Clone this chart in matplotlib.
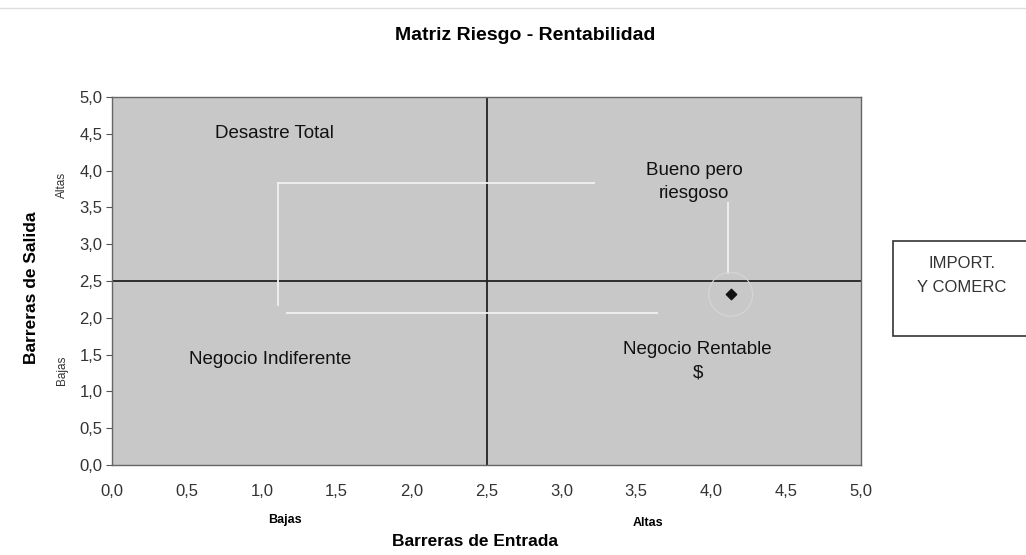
import numpy as np
import matplotlib
matplotlib.use('Agg')
import matplotlib.pyplot as plt
from matplotlib.patches import Rectangle

plt.rcParams['font.family'] = ['Liberation Sans', 'DejaVu Sans']

# datos
ticks = [0.0, 0.5, 1.0, 1.5, 2.0, 2.5, 3.0, 3.5, 4.0, 4.5, 5.0]
tick_labels = [f'{t:.1f}'.replace('.', ',') for t in ticks]
punto_x = [4.13]
punto_y = [2.32]
# recorrido en blanco
linea_sup_x = [1.11, 3.22]
linea_sup_y = [3.83, 3.83]
linea_izq_x = [1.11, 1.11]
linea_izq_y = [3.83, 2.17]
linea_inf_x = [1.17, 3.64]
linea_inf_y = [2.07, 2.07]
linea_der_x = [4.11, 4.11]
linea_der_y = [3.56, 2.61]
cuadrantes = ['Desastre Total', 'Bueno pero\nriesgoso', 'Negocio Indiferente', 'Negocio Rentable\n$']
cuad_x = [1.085, 3.885, 1.058, 3.91]
cuad_y = [4.50, 3.84, 1.43, 1.41]

fig = plt.figure(figsize=(10.26, 5.55), dpi=100)
ax = fig.add_axes([112/1026, 1-465/555, 749/1026, 368/555])
ax.set_facecolor('#c8c8c8')
ax.set_xlim(0, 5)
ax.set_ylim(0, 5)
ax.set_xticks(ticks)
ax.set_xticklabels(tick_labels, fontsize=12, color='#333333')
ax.set_yticks(ticks)
ax.set_yticklabels(tick_labels, fontsize=12, color='#333333')
ax.tick_params(axis='x', length=0, pad=14)
ax.tick_params(axis='y', length=4, color='#555555', pad=3)
for s in ax.spines.values():
    s.set_color('#666666')
    s.set_linewidth(1)

ax.axvline(2.5, color='#222222', lw=1.3)
ax.axhline(2.5, color='#222222', lw=1.3)

wc = '#f2f2f2'
ax.plot(linea_sup_x, linea_sup_y, color=wc, lw=1.3)
ax.plot(linea_izq_x, linea_izq_y, color=wc, lw=1.3)
ax.plot(linea_inf_x, linea_inf_y, color=wc, lw=1.3)
ax.plot(linea_der_x, linea_der_y, color=wc, lw=1.3)

ax.scatter(punto_x, punto_y, marker='D', s=28, color='#111111', zorder=5)
ax.scatter(punto_x, punto_y, marker='o', s=1000, facecolor='none', edgecolor='#d6d6d6', lw=0.8, zorder=4)

for t, x, y in zip(cuadrantes, cuad_x, cuad_y):
    ax.text(x, y, t, ha='center', va='center', fontsize=13.5, color='#111111', linespacing=1.45)

fig.text(525/1026, 1-35/555, 'Matriz Riesgo - Rentabilidad', ha='center', va='center',
         fontsize=14, fontweight='bold')
fig.text(475/1026, 1-541/555, 'Barreras de Entrada', ha='center', va='center',
         fontsize=12.5, fontweight='bold')
fig.text(285/1026, 1-520/555, 'Bajas', ha='center', va='center', fontsize=9, fontweight='bold')
fig.text(648/1026, 1-523/555, 'Altas', ha='center', va='center', fontsize=9, fontweight='bold')
fig.text(32/1026, 1-288/555, 'Barreras de Salida', ha='center', va='center', rotation=90,
         fontsize=12.5, fontweight='bold')
fig.text(62/1026, 1-185/555, 'Altas', ha='center', va='center', rotation=90, fontsize=8.5,
         color='#333333')
fig.text(62/1026, 1-370/555, 'Bajas', ha='center', va='center', rotation=90, fontsize=8.5,
         color='#333333')

# caja de leyenda
fig.patches.append(Rectangle((893/1026, 1-336/555), 140/1026, 95/555, transform=fig.transFigure,
                             facecolor='white', edgecolor='#333333', lw=1.2))
fig.text(962/1026, 1-276/555, 'IMPORT.\nY COMERC', ha='center', va='center', fontsize=12,
         color='#333333', linespacing=1.75)

fig.add_artist(plt.Line2D([0, 1], [1-8/555, 1-8/555], color='#dddddd', lw=1, transform=fig.transFigure))

fig.savefig('out.png', dpi=100)
